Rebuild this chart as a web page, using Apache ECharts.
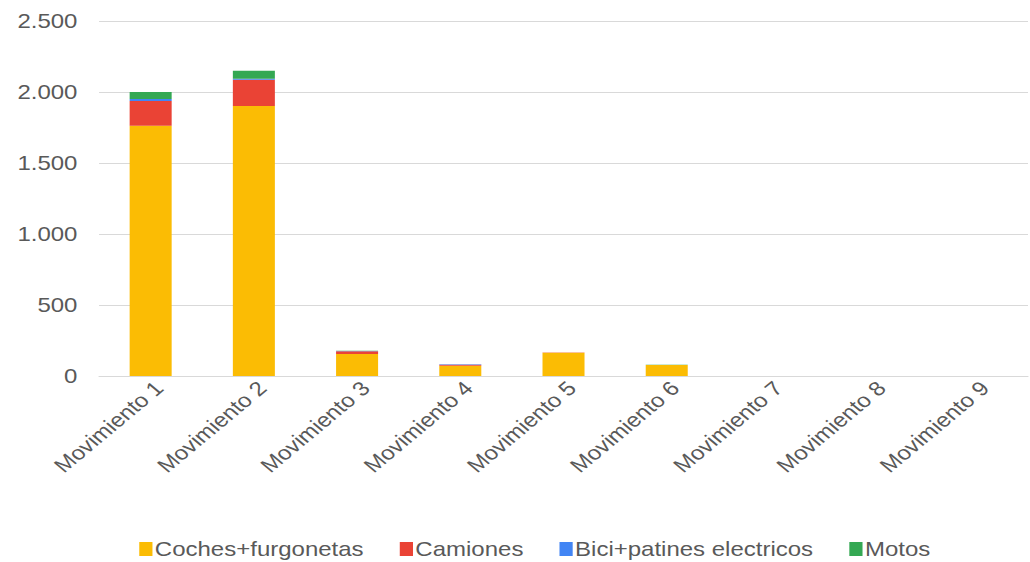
<!DOCTYPE html>
<html><head><meta charset="utf-8">
<script src="https://cdn.jsdelivr.net/npm/echarts@6/dist/echarts.min.js"></script>
<style>
html,body{margin:0;padding:0;background:#fff;overflow:hidden}
#wrap{width:1030px;height:562px;overflow:hidden}
#c{width:858px;height:562px;transform:scaleX(1.2005);transform-origin:0 0}
</style>
</head><body><div id="wrap"><div id="c"></div></div>
<script>
const categories = ['Movimiento 1','Movimiento 2','Movimiento 3','Movimiento 4','Movimiento 5','Movimiento 6','Movimiento 7','Movimiento 8','Movimiento 9'];
const coches = [1763, 1901, 155, 72, 164, 77, 0, 0, 0];
const camiones = [173, 185, 20, 8, 1, 0, 0, 0, 0];
const bici = [14, 7, 1, 2, 0, 0, 0, 0, 0];
const motos = [50, 56, 2, 1, 1, 2, 0, 0, 0];
const seriesNames = ['Coches+furgonetas','Camiones','Bici+patines electricos','Motos'];
const colors = ['#FBBC04','#EA4335','#4285F4','#34A853'];
const yTicks = [0, 500, 1000, 1500, 2000, 2500];

const font = 'Liberation Sans, Arial, sans-serif';
const fmt = v => String(v).replace(/\B(?=(\d{3})+(?!\d))/g, '.');
const chart = echarts.init(document.getElementById('c'), null, {renderer: 'svg'});
const dataSets = [coches, camiones, bici, motos];
chart.setOption({
  animation: false,
  color: colors,
  grid: {left: 82.5, right: 1.7, top: 21, bottom: 186, containLabel: false},
  legend: {
    top: 534, left: 111,
    itemWidth: 11, itemHeight: 14, itemGap: 30,
    icon: 'rect',
    textStyle: {fontFamily: font, fontSize: 20, color: '#595959', padding: [0,0,0,-3]},
    data: seriesNames
  },
  xAxis: {
    type: 'category', data: categories,
    axisLine: {lineStyle: {color: '#d9d9d9', width: 1}},
    axisTick: {show: false},
    axisLabel: {rotate: 45, interval: 0, color: '#595959', fontFamily: font, fontSize: 20, margin: 16,
      padding: [0, -10, 0, 0]}
  },
  yAxis: {
    type: 'value', min: yTicks[0], max: yTicks[yTicks.length-1], interval: 500,
    axisLine: {show: false}, axisTick: {show: false},
    splitLine: {lineStyle: {color: '#d9d9d9', width: 1}},
    axisLabel: {color: '#595959', fontFamily: font, fontSize: 20, margin: 18, formatter: fmt}
  },
  series: dataSets.map((d, i) => ({
    name: seriesNames[i], type: 'bar', stack: 'total', data: d, barWidth: 35,
    itemStyle: {color: colors[i]}
  }))
});
</script></body></html>
